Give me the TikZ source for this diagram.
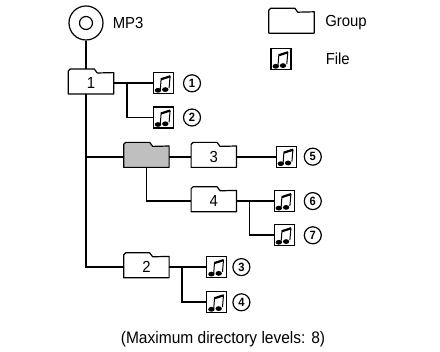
\documentclass[tikz,border=0pt]{standalone}
\usepackage{fontspec}
\setmainfont[FakeStretch=0.93]{Liberation Sans}
\usetikzlibrary{positioning,calc,shapes.misc}
\tikzset{
foldernode/.style={minimum width=45pt,minimum height=21pt,inner sep=0pt,font=\fontsize{16}{18}\selectfont,
append after command={\pgfextra{\draw[line width=1.2pt,line join=round,fill=#1](\tikzlastnode.south west)--++(0,23pt)--++(2pt,2pt)--++(24pt,0)--++(3pt,-4pt)--(\tikzlastnode.north east)--(\tikzlastnode.south east)--cycle;}}},
foldernode/.default=none,
filenode/.style={chamfered rectangle,chamfered rectangle corners=south east,chamfered rectangle xsep=3pt,chamfered rectangle ysep=3pt,draw,line width=1.2pt,minimum width=20pt,minimum height=21pt,inner sep=0pt,
path picture={
\fill[rotate around={20:(path picture bounding box.center)}]($(path picture bounding box.center)+(-5.3pt,-7pt)$)ellipse(3.2pt and 2.4pt);
\fill[rotate around={20:(path picture bounding box.center)}]($(path picture bounding box.center)+(2pt,-6.3pt)$)ellipse(3.2pt and 2.4pt);
\draw[line width=1pt]($(path picture bounding box.center)+(-3pt,-6.5pt)$)--($(path picture bounding box.center)+(-2.2pt,4pt)$);
\draw[line width=1pt]($(path picture bounding box.center)+(5.8pt,-4.8pt)$)--($(path picture bounding box.center)+(6.8pt,7pt)$);
\draw[line width=2.2pt]($(path picture bounding box.center)+(-2.4pt,4pt)$)--($(path picture bounding box.center)+(7pt,7pt)$);
}},
numnode/.style={circle,draw,line width=1.2pt,minimum size=17pt,inner sep=0pt,font=\fontsize{12}{14}\selectfont\bfseries},
textnode/.style={inner sep=0pt,text height=11pt,text depth=0pt,font=\fontsize{16}{18}\selectfont},
link/.style={line width=1.8pt}
}
\begin{document}
\begin{tikzpicture}
\useasboundingbox(0,0)rectangle(440pt,-352pt);
% root and first group
\node[circle,draw,line width=1.2pt,minimum size=34pt,inner sep=0pt](disc)at(86pt,-23pt){};
\node[circle,draw,line width=1.2pt,minimum size=13pt,inner sep=0pt]at(disc.center)(hole){};
\node[textnode,right=9pt of disc](mp3){MP3};
\node[foldernode,below=32pt of disc,xshift=5pt](f1){1};
\node[filenode,right=39pt of f1](file1){};
\node[filenode,below=12pt of file1](file2){};
\node[numnode,right=9pt of file1](num1){1};
\node[numnode,right=9pt of file2](num2){2};
% grey group and its children
\node[foldernode=gray!50,below right=52pt and 10pt of f1](g){};
\node[foldernode,right=22pt of g](f3){3};
\node[filenode,right=39pt of f3](file5){};
\node[numnode,right=7pt of file5](num5){5};
\node[foldernode,below=23pt of f3](f4){4};
\node[filenode,right=37pt of f4](file6){};
\node[filenode,below=12pt of file6](file7){};
\node[numnode,right=9pt of file6](num6){6};
\node[numnode,right=9pt of file7](num7){7};
% last group
\node[foldernode,below=89pt of g](f2){2};
\node[filenode,right=37pt of f2](file3){};
\node[filenode,below=13pt of file3](file4){};
\node[numnode,right=5pt of file3](num3){3};
\node[numnode,right=5pt of file4](num4){4};
% legend
\node[foldernode](lfolder)at(291.5pt,-22.5pt){};
\node[filenode,below=15pt of lfolder,xshift=-10.5pt](lfile){};
\node[textnode,right=11pt of lfolder,yshift=1.5pt](lgroup){Group};
\node[textnode,right=34pt of lfile](ltext){File};
\node[textnode,font=\fontsize{16.7}{18}\selectfont](caption)at(223pt,-338pt){(Maximum directory levels: 8)};
% connectors
\draw[link](disc.south)--($(disc.south|-f1.north)+(0,4pt)$);
\draw[link](f1.east)--(file1.west);
\draw[link]($(f1.east)+(13pt,0)$)|-(file2.west);
\draw[link](disc.south|-f1.south)|-(g.west);
\draw[link](disc.south|-f1.south)|-(f2.west);
\draw[link](g.east)--(f3.west);\draw[link](f3.east)--(file5.west);
\draw[link](g.south)|-(f4.west);
\draw[link](f4.east)--(file6.west);
\draw[link]($(f4.east)+(13pt,0)$)|-(file7.west);
\draw[link](f2.east)--(file3.west);
\draw[link]($(f2.east)+(13pt,0)$)|-(file4.west);
\end{tikzpicture}
\end{document}
